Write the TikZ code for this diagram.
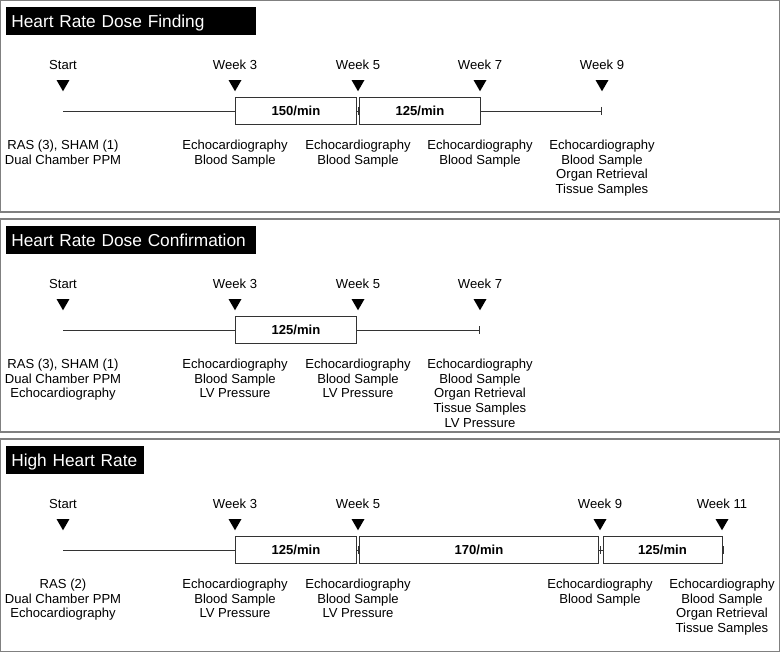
\documentclass[tikz,border=0pt]{standalone}
\usepackage{fontspec}
\setmainfont{Liberation Sans}
\usetikzlibrary{shapes.geometric, arrows.meta, positioning}

\begin{document}
\begin{tikzpicture}[
        x=0.025cm, y=-0.025cm,
        panel/.style={draw=black!50, line width=0.8pt},
        titlebox/.style={fill=black, text=white, anchor=north west, align=left, font=\fontsize{12.3}{14}\selectfont, inner xsep=0.125cm, inner ysep=0pt, minimum height=0.7cm, text height=9.5pt, text depth=0pt},
        wkmark/.style={regular polygon, regular polygon sides=3, shape border rotate=180, fill=black, inner sep=0pt, minimum size=0.375cm},
        wklabel/.style={anchor=base, font=\fontsize{9.3}{10.5}\selectfont},
        note/.style={anchor=north, align=center, inner sep=0pt, font=\fontsize{9.3}{10.5}\selectfont},
        rate/.style={draw=black!80, line width=0.7pt, fill=white, minimum height=0.675cm, inner sep=0pt, font=\fontsize{9.3}{10.5}\selectfont\bfseries},
        tl/.style={draw=black!80, line width=0.7pt}
      ]
      \useasboundingbox (0,0) rectangle (780,652);

      % Panel frames
      \draw[panel] (0.5,0.5) rectangle (779.5,212);
      \draw[panel] (0.5,219) rectangle (779.5,432);
      \draw[panel] (0.5,439) rectangle (779.5,651.5);

      % Heart rate dose finding
      \begin{scope}[shift={(0,0)}]
      \node[titlebox, text width=6cm] (findTitle) at (6,7) {Heart Rate Dose Finding};

      \node[wklabel] (findLabelStart) at (63,69) {Start};
      \node[wklabel] (findLabel3) at (235,69) {Week 3};
      \node[wklabel] (findLabel5) at (358,69) {Week 5};
      \node[wklabel] (findLabel7) at (480,69) {Week 7};
      \node[wklabel] (findLabel9) at (602,69) {Week 9};

      \node[wkmark] (findStart) at (63,83.75) {};
      \node[wkmark] (findWeek3) at (235,83.75) {};
      \node[wkmark] (findWeek5) at (358,83.75) {};
      \node[wkmark] (findWeek7) at (480,83.75) {};
      \node[wkmark] (findWeek9) at (602,83.75) {};

      \coordinate (findBegin) at (63,111);
      \coordinate (findTick5) at (358,111);
      \coordinate (findEnd) at (602,111);
      \draw[tl, -{Bar[width=5.7pt]}] (findBegin) -- (findEnd);
      \draw[tl] (findTick5) ++(0,-4) -- ++(0,8);

      \node[rate, minimum width=3cm] (findRate150) at (296,110.5) {150/min};
      \node[rate, minimum width=3cm] (findRate125) at (420,110.5) {125/min};

      \node[note] (findNoteStart) at (63,139.5) {RAS (3), SHAM (1)\\Dual Chamber PPM};
      \node[note] (findNote3) at (235,139.5) {Echocardiography\\Blood Sample};
      \node[note] (findNote5) at (358,139.5) {Echocardiography\\Blood Sample};
      \node[note] (findNote7) at (480,139.5) {Echocardiography\\Blood Sample};
      \node[note] (findNote9) at (602,139.5) {Echocardiography\\Blood Sample\\Organ Retrieval\\Tissue Samples};
      \end{scope}

      % Heart rate dose confirmation
      \begin{scope}[shift={(0,219)}]
      \node[titlebox, text width=6cm] (confTitle) at (6,7) {Heart Rate Dose Confirmation};

      \node[wklabel] (confLabelStart) at (63,69) {Start};
      \node[wklabel] (confLabel3) at (235,69) {Week 3};
      \node[wklabel] (confLabel5) at (358,69) {Week 5};
      \node[wklabel] (confLabel7) at (480,69) {Week 7};

      \node[wkmark] (confStart) at (63,83.75) {};
      \node[wkmark] (confWeek3) at (235,83.75) {};
      \node[wkmark] (confWeek5) at (358,83.75) {};
      \node[wkmark] (confWeek7) at (480,83.75) {};

      \coordinate (confBegin) at (63,111);
      \coordinate (confEnd) at (480,111);
      \draw[tl, -{Bar[width=5.7pt]}] (confBegin) -- (confEnd);

      \node[rate, minimum width=3cm] (confRate125) at (296,110.5) {125/min};

      \node[note] (confNoteStart) at (63,139.5) {RAS (3), SHAM (1)\\Dual Chamber PPM\\Echocardiography};
      \node[note] (confNote3) at (235,139.5) {Echocardiography\\Blood Sample\\LV Pressure};
      \node[note] (confNote5) at (358,139.5) {Echocardiography\\Blood Sample\\LV Pressure};
      \node[note] (confNote7) at (480,139.5) {Echocardiography\\Blood Sample\\Organ Retrieval\\Tissue Samples\\LV Pressure};
      \end{scope}

      % High heart rate
      \begin{scope}[shift={(0,439)}]
      \node[titlebox, text width=3.2cm] (highTitle) at (6,7) {High Heart Rate};

      \node[wklabel] (highLabelStart) at (63,69) {Start};
      \node[wklabel] (highLabel3) at (235,69) {Week 3};
      \node[wklabel] (highLabel5) at (358,69) {Week 5};
      \node[wklabel] (highLabel9) at (600,69) {Week 9};
      \node[wklabel] (highLabel11) at (722,69) {Week 11};

      \node[wkmark] (highStart) at (63,83.75) {};
      \node[wkmark] (highWeek3) at (235,83.75) {};
      \node[wkmark] (highWeek5) at (358,83.75) {};
      \node[wkmark] (highWeek9) at (600,83.75) {};
      \node[wkmark] (highWeek11) at (722,83.75) {};

      \coordinate (highBegin) at (63,111);
      \coordinate (highTick5) at (358,111);
      \coordinate (highTick9) at (600.5,111);
      \coordinate (highEnd) at (724,111);
      \draw[tl, -{Bar[width=5.7pt]}] (highBegin) -- (highEnd);
      \draw[tl] (highTick5) ++(0,-4) -- ++(0,8);
      \draw[tl] (highTick9) ++(0,-4) -- ++(0,8);

      \node[rate, minimum width=3cm] (highRate125a) at (296,110.5) {125/min};
      \node[rate, minimum width=5.95cm] (highRate170) at (479,110.5) {170/min};
      \node[rate, minimum width=2.975cm] (highRate125b) at (662.5,110.5) {125/min};

      \node[note] (highNoteStart) at (63,139.5) {RAS (2)\\Dual Chamber PPM\\Echocardiography};
      \node[note] (highNote3) at (235,139.5) {Echocardiography\\Blood Sample\\LV Pressure};
      \node[note] (highNote5) at (358,139.5) {Echocardiography\\Blood Sample\\LV Pressure};
      \node[note] (highNote9) at (600,139.5) {Echocardiography\\Blood Sample};
      \node[note] (highNote11) at (722,139.5) {Echocardiography\\Blood Sample\\Organ Retrieval\\Tissue Samples};
      \end{scope}
  \end{tikzpicture}
\end{document}
